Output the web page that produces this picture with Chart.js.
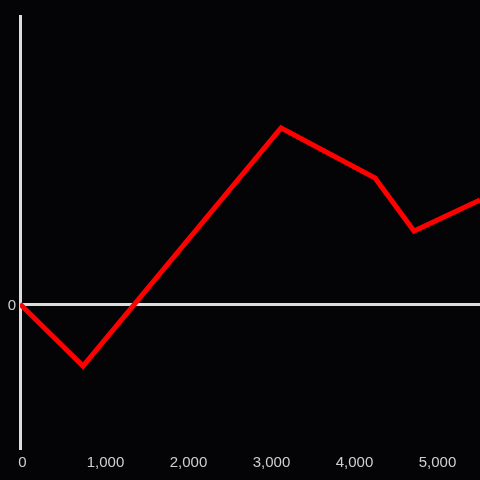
<!DOCTYPE html>
<html><head><meta charset="utf-8">
<script src="https://cdn.jsdelivr.net/npm/chart.js@4/dist/chart.umd.min.js"></script>
<style>html,body{margin:0;padding:0;background:#040306;}#wrap{width:480px;height:480px;}</style>
</head><body><div id="wrap"><canvas id="c" width="480" height="480"></canvas></div>
<script>
const xValues = [0, 759, 3145, 4277, 4747, 5542];
const yValues = [0, -0.62, 1.76, 1.26, 0.73, 1.04];
const xTicks = [0, 1000, 2000, 3000, 4000, 5000];
const yTicks = [0];

const bgPlugin = {id:'bg', beforeDraw(c){const x=c.ctx;x.save();x.fillStyle='#040306';x.fillRect(0,0,c.width,c.height);x.restore();}};

new Chart(document.getElementById('c'), {
  type: 'line',
  data: { datasets: [{ data: xValues.map((x,i)=>({x, y:yValues[i]})), borderColor:'#ff0000', borderWidth:5, pointRadius:0, tension:0, fill:false }] },
  options: {
    responsive:false, animation:false, devicePixelRatio:1,
    layout:{padding:{top:16,right:0,left:0,bottom:0}},
    plugins:{legend:{display:false}, tooltip:{enabled:false}},
    scales:{
      x:{type:'linear', min:0, max:5542,
        afterBuildTicks(s){ s.ticks = xTicks.map(v=>({value:v})); },
        afterFit(s){ s.height = 32; },
        border:{display:false},
        grid:{display:false, drawTicks:false},
        ticks:{color:'#cfcfcf', font:{family:'"Liberation Sans", Arial', size:15}, padding:6, maxRotation:0, labelOffset:2.5,
          callback:(v)=>v.toLocaleString('en-US')}
      },
      y:{type:'linear', min:-1.44, max:2.88,
        afterBuildTicks(s){ s.ticks = yTicks.map(v=>({value:v})); },
        afterFit(s){ s.width = 20; },
        border:{display:true, color:'#dddddd', width:3},
        grid:{display:true, drawTicks:false, color:'#dddddd', lineWidth:3},
        ticks:{color:'#cfcfcf', font:{family:'"Liberation Sans", Arial', size:15}, padding:4, labelOffset:2,
          callback:(v)=>String(v)}
      }
    }
  },
  plugins:[bgPlugin]
});
</script></body></html>
